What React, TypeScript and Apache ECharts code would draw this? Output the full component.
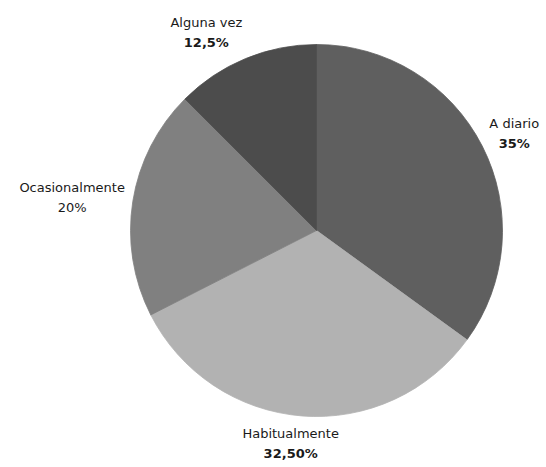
import React, { useEffect, useRef } from "react";
import * as echarts from "echarts";

const categories = ["A diario", "Habitualmente", "Ocasionalmente", "Alguna vez"];
const values = [35, 32.5, 20, 12.5];
const valueLabels = ["35%", "32,50%", "20%", "12,5%"];
const boldValue = [true, true, false, true];
const colors = ["#5f5f5f", "#b2b2b2", "#808080", "#4c4c4c"];

const CX = 316.5;
const CY = 230.5;
const R = 186;
const GAP = 8;

export default function App() {
  const ref = useRef<HTMLDivElement>(null);
  useEffect(() => {
    const chart = echarts.init(ref.current!, null, { renderer: "svg" });
    const total = values.reduce((a, b) => a + b, 0);
    const mids: number[] = [];
    let acc = 0;
    values.forEach((v) => {
      mids.push(((acc + v / 2) / total) * Math.PI * 2);
      acc += v;
    });
    const clamp = (v: number) => Math.max(0, Math.min(1, v));
    chart.setOption({
      animation: false,
      backgroundColor: "#ffffff",
      series: [
        {
          type: "pie",
          center: [CX, CY],
          radius: [0, R],
          startAngle: 90,
          clockwise: true,
          emphasis: { disabled: true },
          label: {
            show: true,
            position: "outside",
            alignTo: "none",
            overflow: "none",
            fontFamily: "DejaVu Sans",
            fontSize: 13,
            color: "#1a1a1a",
            lineHeight: 20,
            align: "center",
          },
          labelLine: { show: false },
          labelLayout: (p: any) => {
            const a = mids[p.dataIndex];
            const dx = Math.sin(a);
            const dy = -Math.cos(a);
            const w = p.labelRect.width;
            const h = p.labelRect.height;
            const ax = CX + dx * (R + GAP);
            const ay = CY + dy * (R + GAP);
            const fx = clamp(0.5 - 1.4 * dx);
            const fy = clamp(0.5 - 0.5 * dy);
            return {
              x: ax - fx * w + w / 2,
              y: ay - fy * h + h / 2,
              align: "center",
              verticalAlign: "middle",
            };
          },
          data: categories.map((name, i) => ({
            name,
            value: values[i],
            itemStyle: { color: colors[i], borderColor: colors[i], borderWidth: 0.8 },
            label: {
              formatter: `{n|${name}}\n{${boldValue[i] ? "b" : "v"}|${valueLabels[i]}}`,
              rich: {
                n: { fontFamily: "DejaVu Sans", fontSize: 13, color: "#1a1a1a", lineHeight: 20, align: "center" },
                v: { fontFamily: "DejaVu Sans", fontSize: 13, color: "#1a1a1a", lineHeight: 20, align: "center" },
                b: { fontFamily: "DejaVu Sans", fontSize: 13, fontWeight: "bold", color: "#1a1a1a", lineHeight: 20, align: "center" },
              },
            },
          })),
        },
      ],
    });
    return () => chart.dispose();
  }, []);
  return (
    <div
      ref={ref}
      style={{ position: "absolute", left: 0, top: 0, width: 546, height: 467 }}
    />
  );
}
